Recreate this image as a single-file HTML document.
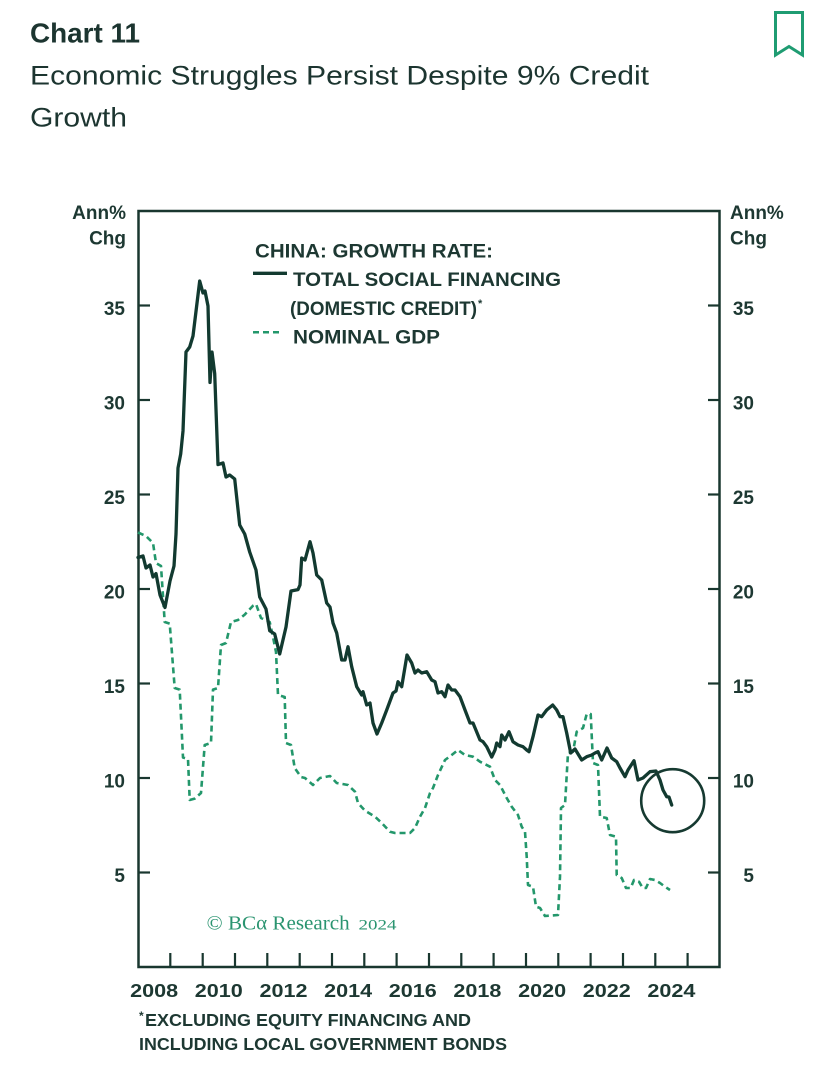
<!DOCTYPE html>
<html>
<head>
<meta charset="utf-8">
<style>
  html,body{margin:0;padding:0;background:#ffffff;}
  svg{display:block;}
  text{font-family:"Liberation Sans",sans-serif;}
</style>
</head>
<body>
<svg width="819" height="1077" viewBox="0 0 819 1077" xmlns="http://www.w3.org/2000/svg">
  <rect x="0" y="0" width="819" height="1077" fill="#ffffff"/>

  <!-- Title -->
  <text x="30" y="42.7" font-size="28" font-weight="bold" fill="#1c3530" textLength="110" lengthAdjust="spacingAndGlyphs">Chart 11</text>
  <text x="30" y="84.3" font-size="26.5" fill="#1c3530" textLength="619" lengthAdjust="spacingAndGlyphs">Economic Struggles Persist Despite 9% Credit</text>
  <text x="30" y="126.7" font-size="26.5" fill="#1c3530" textLength="97" lengthAdjust="spacingAndGlyphs">Growth</text>

  <!-- Bookmark -->
  <path d="M775.5,12.5 V55 L789,46.5 L802.5,55 V12.5 Z" fill="none" stroke="#1f9c72" stroke-width="3" stroke-linejoin="miter"/>

  <!-- Axis unit labels -->
  <g font-size="19" font-weight="bold" fill="#1d3832">
    <text x="126" y="219" text-anchor="end">Ann%</text>
    <text x="126" y="244.5" text-anchor="end">Chg</text>
    <text x="730" y="219">Ann%</text>
    <text x="730" y="244.5">Chg</text>
  </g>

  <!-- Frame -->
  <rect x="138.5" y="211" width="581" height="756" fill="none" stroke="#19372f" stroke-width="2.5"/>

  <!-- Y ticks -->
  <g stroke="#19372f" stroke-width="2.2">
    <line x1="138" y1="872.5" x2="150" y2="872.5"/>
    <line x1="138" y1="778" x2="150" y2="778"/>
    <line x1="138" y1="683.5" x2="150" y2="683.5"/>
    <line x1="138" y1="589" x2="150" y2="589"/>
    <line x1="138" y1="494.5" x2="150" y2="494.5"/>
    <line x1="138" y1="400" x2="150" y2="400"/>
    <line x1="138" y1="305.5" x2="150" y2="305.5"/>
    <line x1="708" y1="872.5" x2="720" y2="872.5"/>
    <line x1="708" y1="778" x2="720" y2="778"/>
    <line x1="708" y1="683.5" x2="720" y2="683.5"/>
    <line x1="708" y1="589" x2="720" y2="589"/>
    <line x1="708" y1="494.5" x2="720" y2="494.5"/>
    <line x1="708" y1="400" x2="720" y2="400"/>
    <line x1="708" y1="305.5" x2="720" y2="305.5"/>
  </g>

  <!-- Y tick labels -->
  <g font-size="19" font-weight="bold" fill="#1d3832" text-anchor="end">
    <text x="125" y="882">5</text>
    <text x="125" y="787.5">10</text>
    <text x="125" y="693">15</text>
    <text x="125" y="598.5">20</text>
    <text x="125" y="504">25</text>
    <text x="125" y="409.5">30</text>
    <text x="125" y="315">35</text>
    <text x="754" y="882">5</text>
    <text x="754" y="787.5">10</text>
    <text x="754" y="693">15</text>
    <text x="754" y="598.5">20</text>
    <text x="754" y="504">25</text>
    <text x="754" y="409.5">30</text>
    <text x="754" y="315">35</text>
  </g>

  <!-- X ticks -->
  <g stroke="#19372f" stroke-width="2.2">
    <line x1="170.3" y1="967" x2="170.3" y2="953"/>
    <line x1="202.7" y1="967" x2="202.7" y2="953"/>
    <line x1="235.0" y1="967" x2="235.0" y2="953"/>
    <line x1="267.3" y1="967" x2="267.3" y2="953"/>
    <line x1="299.7" y1="967" x2="299.7" y2="953"/>
    <line x1="332.0" y1="967" x2="332.0" y2="953"/>
    <line x1="364.3" y1="967" x2="364.3" y2="953"/>
    <line x1="396.6" y1="967" x2="396.6" y2="953"/>
    <line x1="429.0" y1="967" x2="429.0" y2="953"/>
    <line x1="461.3" y1="967" x2="461.3" y2="953"/>
    <line x1="493.6" y1="967" x2="493.6" y2="953"/>
    <line x1="526.0" y1="967" x2="526.0" y2="953"/>
    <line x1="558.3" y1="967" x2="558.3" y2="953"/>
    <line x1="590.6" y1="967" x2="590.6" y2="953"/>
    <line x1="623.0" y1="967" x2="623.0" y2="953"/>
    <line x1="655.3" y1="967" x2="655.3" y2="953"/>
    <line x1="687.6" y1="967" x2="687.6" y2="953"/>
  </g>

  <!-- X labels -->
  <g font-size="18.5" font-weight="bold" fill="#1d3832" text-anchor="middle">
    <text x="154.2" y="997" textLength="48" lengthAdjust="spacingAndGlyphs">2008</text>
    <text x="218.8" y="997" textLength="48" lengthAdjust="spacingAndGlyphs">2010</text>
    <text x="283.5" y="997" textLength="48" lengthAdjust="spacingAndGlyphs">2012</text>
    <text x="348.1" y="997" textLength="48" lengthAdjust="spacingAndGlyphs">2014</text>
    <text x="412.8" y="997" textLength="48" lengthAdjust="spacingAndGlyphs">2016</text>
    <text x="477.4" y="997" textLength="48" lengthAdjust="spacingAndGlyphs">2018</text>
    <text x="542.1" y="997" textLength="48" lengthAdjust="spacingAndGlyphs">2020</text>
    <text x="606.8" y="997" textLength="48" lengthAdjust="spacingAndGlyphs">2022</text>
    <text x="671.4" y="997" textLength="48" lengthAdjust="spacingAndGlyphs">2024</text>
  </g>

  <!-- Legend -->
  <g font-size="19.5" font-weight="bold" fill="#1d3832">
    <text x="255" y="257.3" textLength="238" lengthAdjust="spacingAndGlyphs">CHINA: GROWTH RATE:</text>
    <text x="293" y="286" textLength="268" lengthAdjust="spacingAndGlyphs">TOTAL SOCIAL FINANCING</text>
    <text x="290" y="315" textLength="187" lengthAdjust="spacingAndGlyphs">(DOMESTIC CREDIT)</text>
    <text x="293" y="343.3" textLength="147" lengthAdjust="spacingAndGlyphs">NOMINAL GDP</text>
  </g>
  <text x="478" y="307" font-size="11" font-weight="bold" fill="#1d3832">*</text>
  <line x1="253" y1="273.3" x2="287" y2="273.3" stroke="#123a30" stroke-width="3.3"/>
  <line x1="253" y1="332.3" x2="281" y2="332.3" stroke="#23976b" stroke-width="2.5" stroke-dasharray="6 4"/>

  <!-- Copyright -->
  <text x="206.7" y="929.3" font-family="Liberation Serif, serif" font-size="20" fill="#2a9470" textLength="143" lengthAdjust="spacingAndGlyphs" style="font-family:'Liberation Serif',serif">© BCα Research</text>
  <text x="358.5" y="929.3" font-size="15" fill="#2a9470" textLength="38" lengthAdjust="spacingAndGlyphs" style="font-family:'Liberation Serif',serif">2024</text>

  <!-- GDP series (dashed) -->
  <polyline fill="none" stroke="#23976b" stroke-width="2.6" stroke-dasharray="6 4" stroke-linejoin="round" points="
138,532.5 146,536 153,543 156,563 161,566 164.7,622 169.7,623.6 174.7,688 179.7,689.6 183,757.5 188,759 189.7,800 194.7,798.6 201,793 204.7,745 211,743 213,689.6 218,688 221,645 226,643 231,622 238,620 244.7,614.6 253,605.7 256,604 261,618 269.7,622 273,637 276,652 278,695 284.7,697 286,743 291,745 294.7,768 301,777 305,778 313,785 320,778 330,776 336.7,783 348,785 355,791.7 358,803 365,810.7 375,816.7 381.7,823 390,831.7 395,833 410,833 415,828 420,816.7 425,808 430,793 433,788 438,775 445,760 451.7,755 458,750 465,755 473,756.7 480,761.7 490,766.7 495,780 500,785 506.7,798 511.7,806.7 518,815 521.7,826.7 525,831.7 526.7,856.7 528,885 533,886.7 536,906.7 540,908 545,916 558,915 560,876.7 561,808 565,805 568,753 573,751.7 576.7,731.7 583,728 586.7,714 590.7,714 593,763 598,765 600,816.7 606.7,818 610,835 616,836.7 616.7,875 621.7,878 626,888 630.7,888 634,880 639,881.7 642.7,888 646,888 650,879 655,880 660,883 665,886.7 670,890"/>

  <!-- TSF series (solid) -->
  <polyline fill="none" stroke="#123a30" stroke-width="3.3" stroke-linejoin="round" stroke-linecap="round" points="
138,557.5 143,556 146,568 150,565 153,577 156,573.6 160,595 165,607.5 170,581 174,566 176,534 178,468 180.7,454 183,431 186,352 189.7,347 193,336 199.7,281 203,293 205,291 208,306 210,382.5 212,352 214.7,373.6 218,464.6 223,463 226,477 229.7,475 234.7,479 239.7,525 244.7,534 249.7,552 256,570 259.7,597 266,609 269.7,630.7 274.7,634 279.7,654 286,627 291,591 298,589.6 300,585 301.7,558 305,560 310,541.7 313,553 316.7,575 321.7,580 326.7,603 330,607 333,623 336.7,633 341.7,660 345,660 348,646.7 351.7,666.7 356.7,686.7 361.7,695 363,691.7 366.7,705 370,703 373,723 377,734 381.7,723 386.7,710 393,693 396,691 398,681.7 401.7,686.7 407,655 411.7,663 415,673 418,670 421.7,673 426.7,671.7 431.7,680 435,681.7 438,693 441.7,691.7 445,696.7 448,685 451.7,690 455,690 460,696.7 465,710 470,723 473,723 480,740 483,741.7 486.7,746.7 491.7,757 495,750 496.7,743 500,746.7 501.7,735 505,740 509,731.7 513,741.7 518,745 523,746.7 526.7,750 529,751.7 533,736.7 538,715 541.7,716.7 546.7,710 552.7,705 556.7,710 560,716.7 563,716.7 566.7,733 570.7,753 575,749 581.7,760 586.7,756.7 591.7,755 595,753 598,751.7 601.7,760 607,748 611.7,758 616.7,761.7 620,768 625,776.7 628,770 634,760.7 638,780 643,778 650,771.7 656,771 660,780 663,790 666.7,796.7 669,797 671.7,805"/>

  <!-- Highlight circle -->
  <circle cx="672.7" cy="800.7" r="31.5" fill="none" stroke="#163a31" stroke-width="2.6"/>

  <!-- Footnote -->
  <text x="139" y="1020" font-size="12" font-weight="bold" fill="#1d3832">*</text>
  <text x="145" y="1026" font-size="17.5" font-weight="bold" fill="#1d3832" textLength="326" lengthAdjust="spacingAndGlyphs">EXCLUDING EQUITY FINANCING AND</text>
  <text x="139" y="1050" font-size="17.5" font-weight="bold" fill="#1d3832" textLength="368" lengthAdjust="spacingAndGlyphs">INCLUDING LOCAL GOVERNMENT BONDS</text>
</svg>
</body>
</html>
